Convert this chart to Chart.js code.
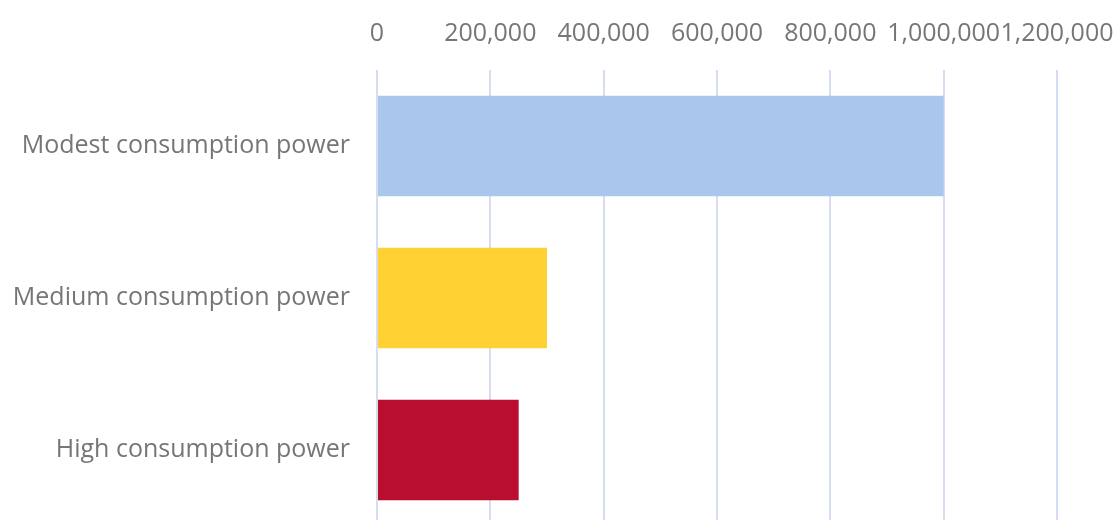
<!DOCTYPE html>
<html>
<head>
<meta charset="utf-8">
<script src="https://cdn.jsdelivr.net/npm/chart.js@4"></script>
<style>
  html, body { margin: 0; padding: 0; background: #fff; overflow: hidden; }
  #wrap { width: 1113px; height: 526px; position: relative; }
</style>
</head>
<body>
<div id="wrap"><canvas id="chart"></canvas></div>
<script>
// data
const categories = ["Modest consumption power", "Medium consumption power", "High consumption power"];
const values = [1000000, 300000, 250000];
const barColors = ["#A9C6EC", "#FFD133", "#B90E30"];
const axisMin = 0;
const axisMax = 1200000;
const axisStep = 200000;

const textGray = "#767676";
const fontFamily = "'Open Sans', Lato, sans-serif";

const ctx = document.getElementById("chart").getContext("2d");
new Chart(ctx, {
  type: "bar",
  data: {
    labels: categories,
    datasets: [{
      data: values,
      backgroundColor: barColors,
      borderWidth: 0,
      categoryPercentage: 0.66,
      barPercentage: 1
    }]
  },
  options: {
    indexAxis: "y",
    responsive: true,
    maintainAspectRatio: false,
    animation: false,
    layout: { padding: { top: 0, right: 56, bottom: 0, left: 0 } },
    plugins: {
      legend: { display: false },
      tooltip: { enabled: false }
    },
    scales: {
      x: {
        position: "top",
        min: axisMin,
        max: axisMax,
        ticks: {
          stepSize: axisStep,
          padding: 21,
          color: textGray,
          font: { family: fontFamily, size: 25 },
          maxRotation: 0,
          autoSkip: false,
          callback: v => v.toLocaleString("en-US")
        },
        grid: { color: "#D6DDF0", lineWidth: 2, drawTicks: false },
        border: { display: false },
        afterFit: s => { s.height = 70; s.paddingLeft = 0; s.paddingRight = 0; }
      },
      y: {
        ticks: {
          padding: 27,
          color: textGray,
          font: { family: fontFamily, size: 25 }
        },
        grid: { display: false, drawTicks: false },
        border: { display: false },
        afterFit: s => { s.width = 377; s.paddingTop = 0; s.paddingBottom = 0; }
      }
    }
  }
});
</script>
</body>
</html>
